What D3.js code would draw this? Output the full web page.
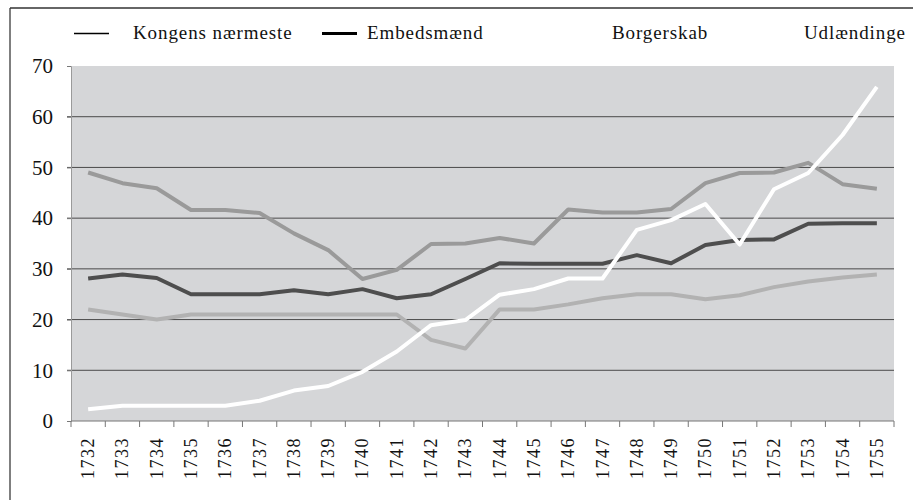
<!DOCTYPE html>
<html>
<head>
<meta charset="utf-8">
<script src="https://cdn.jsdelivr.net/npm/d3@7"></script>
<style>
  body { margin: 0; background: #fff; }
  text { font-family: "Liberation Serif", "DejaVu Serif", serif; fill: #111; }
</style>
</head>
<body>
<div id="chart-area"></div>
<script>
// Data
let years = ["1732","1733","1734","1735","1736","1737","1738","1739","1740","1741","1742","1743",
	"1744","1745","1746","1747","1748","1749","1750","1751","1752","1753","1754","1755"];
let kongens = [22, 21, 20, 21, 21, 21, 21, 21, 21, 21, 16, 14.3, 22, 22, 23, 24.2, 25, 25, 24, 24.8, 26.4, 27.5, 28.3, 28.9];
let embedsmaend = [28.1, 28.9, 28.2, 25, 25, 25, 25.8, 25, 26, 24.2, 25, 28, 31.1, 31, 31, 31, 32.7, 31.1, 34.7, 35.7, 35.8, 38.9, 39, 39];
let borgerskab = [49, 46.9, 45.9, 41.6, 41.6, 41, 37, 33.7, 28, 29.8, 34.9, 35, 36.1, 35, 41.7, 41.1, 41.1, 41.8, 46.9, 48.9, 49, 50.9, 46.7, 45.8];
let udlaendinge = [2.3, 3, 3, 3, 3, 4, 6, 6.9, 9.7, 13.7, 18.9, 19.9, 24.9, 26, 28.1, 28.1, 37.7, 39.6, 42.8, 34.8, 45.7, 48.9, 56.4, 65.9];
let yTicks = [0, 10, 20, 30, 40, 50, 60, 70];
let seriesNames = ["Kongens nærmeste", "Embedsmænd", "Borgerskab", "Udlændinge"];

let width = 913, height = 500;
let plot = {left: 71, right: 894, top: 66, bottom: 421};

let svg = d3.select("#chart-area")
	.append("svg")
	.attr("width", width)
	.attr("height", height);

// frame (left + top edges of the scanned box)
svg.append("line").attr("x1", 10).attr("x2", 10).attr("y1", 8).attr("y2", 500)
	.attr("stroke", "#555").attr("stroke-width", 1.5);
svg.append("line").attr("x1", 10).attr("x2", 913).attr("y1", 8).attr("y2", 8)
	.attr("stroke", "#333").attr("stroke-width", 1.5);

// scales
let x = d3.scaleBand()
	.domain(years)
	.range([plot.left, plot.right])
	.padding(0);

let y = d3.scaleLinear()
	.domain([0, 70])
	.range([plot.bottom, plot.top]);

// plot background
svg.append("rect")
	.attr("x", plot.left)
	.attr("y", plot.top)
	.attr("width", plot.right - plot.left)
	.attr("height", plot.bottom - plot.top)
	.attr("fill", "#d5d6d8");

// gridlines
svg.append("g")
	.selectAll("line")
	.data(yTicks.filter(d => d > 0 && d < 70))
	.enter()
	.append("line")
	.attr("x1", plot.left - 4)
	.attr("x2", plot.right)
	.attr("y1", d => y(d))
	.attr("y2", d => y(d))
	.attr("stroke", "#4a4a4a")
	.attr("stroke-width", 1);

// y axis
let yAxis = d3.axisLeft(y)
	.tickValues(yTicks)
	.tickSize(4)
	.tickPadding(14)
	.tickFormat(d3.format("d"));

let yAxisGroup = svg.append("g")
	.attr("class", "axis y-axis")
	.attr("transform", "translate(" + plot.left + ",0)")
	.call(yAxis);
yAxisGroup.select(".domain").attr("stroke", "#9a9a9a");
yAxisGroup.selectAll(".tick line").attr("stroke", "#777");
yAxisGroup.selectAll("text")
	.style("font-family", "'Liberation Serif', serif")
	.style("font-size", "21px")
	.attr("fill", "#111");

// x axis: ticks at band boundaries, labels rotated
let xAxisGroup = svg.append("g")
	.attr("class", "axis x-axis")
	.attr("transform", "translate(0," + plot.bottom + ")");

xAxisGroup.append("line")
	.attr("x1", plot.left).attr("x2", plot.right)
	.attr("stroke", "#777");

xAxisGroup.selectAll(".bound")
	.data(years.concat(["end"]))
	.enter()
	.append("line")
	.attr("class", "bound")
	.attr("x1", d => d === "end" ? plot.right : x(d))
	.attr("x2", d => d === "end" ? plot.right : x(d))
	.attr("y1", 0)
	.attr("y2", 6)
	.attr("stroke", "#777");

xAxisGroup.selectAll(".year")
	.data(years)
	.enter()
	.append("text")
	.attr("class", "year")
	.attr("transform", d => "translate(" + (x(d) + x.bandwidth() / 2) + ",16) rotate(-90)")
	.attr("text-anchor", "end")
	.attr("dominant-baseline", "central")
	.style("font-size", "18px")
	.style("letter-spacing", "1.5px")
	.text(d => d);

// lines
let seriesData = [
	{name: seriesNames[0], values: kongens, color: "#b2b2b2"},
	{name: seriesNames[1], values: embedsmaend, color: "#4e4e4e"},
	{name: seriesNames[2], values: borgerskab, color: "#9a9a9a"},
	{name: seriesNames[3], values: udlaendinge, color: "#ffffff"}
];

let line = d3.line()
	.x((d, i) => x(years[i]) + x.bandwidth() / 2)
	.y(d => y(d));

svg.append("g")
	.selectAll("path")
	.data(seriesData)
	.enter()
	.append("path")
	.attr("d", d => line(d.values))
	.attr("fill", "none")
	.attr("stroke", d => d.color)
	.attr("stroke-width", 4)
	.attr("stroke-linejoin", "round");

// legend (the scan only shows the first two markers)
let legendItems = [
	{name: seriesNames[0], lx: 74, tx: 133, stroke: "#000", sw: 1.5},
	{name: seriesNames[1], lx: 322, tx: 367, stroke: "#000", sw: 3},
	{name: seriesNames[2], lx: 566, tx: 612, stroke: "#fff", sw: 3},
	{name: seriesNames[3], lx: 758, tx: 804, stroke: "#fff", sw: 3}
];

let legend = svg.append("g").attr("class", "legend");
legend.selectAll("line")
	.data(legendItems)
	.enter()
	.append("line")
	.attr("x1", d => d.lx)
	.attr("x2", d => d.lx + 35)
	.attr("y1", 33.5)
	.attr("y2", 33.5)
	.attr("stroke", d => d.stroke)
	.attr("stroke-width", d => d.sw);

legend.selectAll("text")
	.data(legendItems)
	.enter()
	.append("text")
	.attr("x", d => d.tx)
	.attr("y", 39)
	.style("font-size", "19px")
	.style("letter-spacing", "0.9px")
	.text(d => d.name);
</script>
</body>
</html>
